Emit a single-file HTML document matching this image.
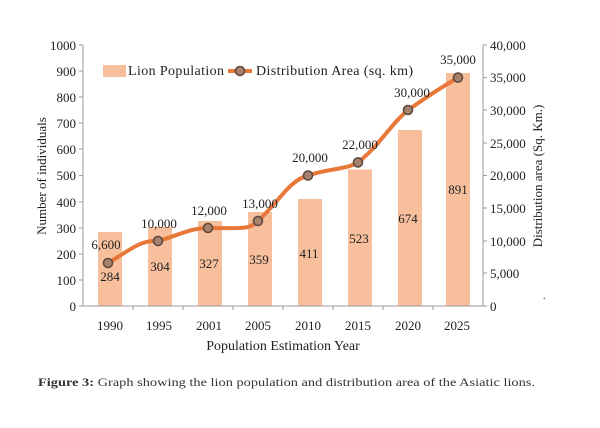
<!DOCTYPE html><html><head><style>body{margin:0;background:#fff}svg{font-family:"Liberation Serif",serif}</style></head><body>
<svg width="600" height="423" xmlns="http://www.w3.org/2000/svg">
<g fill="#f7bf9c">
<rect x="98" y="232" width="24" height="74"/><rect x="148" y="227" width="24" height="79"/><rect x="198" y="221" width="24" height="85"/><rect x="248" y="212" width="24" height="94"/><rect x="298" y="199" width="24" height="107"/><rect x="348" y="169.5" width="24" height="136.5"/><rect x="398" y="130" width="24" height="176"/><rect x="446" y="73" width="24" height="233"/>
</g>
<g stroke="#999" stroke-width="1" fill="none">
<path d="M83 45V306H483V45"/>
<path d="M79 45H83M79 71H83M79 97H83M79 123H83M79 149H83M79 175.5H83M79 202H83M79 228H83M79 254H83M79 280H83M79 306H83"/>
<path d="M483 45H487M483 77.6H487M483 110H487M483 143H487M483 175.5H487M483 208H487M483 241H487M483 273H487M483 306H487"/>
<path d="M133 306V310M183 306V310M233 306V310M283 306V310M333 306V310M383 306V310M433 306V310"/>
</g>
<path d="M108 263C130 250 140 240 158 241C180 235 190 228 208 228C240 228 250 230 258 221C280 200 290 180 308 175.5C330 168 345 170 358 162.4C380 145 390 125 408 110C430 95 440 88 458 77.6" stroke="#e8773a" stroke-width="4" fill="none"/>
<g fill="#a8826c" stroke="#5e4a40" stroke-width="1.6">
<circle cx="108" cy="263" r="4.5"/><circle cx="158" cy="241" r="4.5"/><circle cx="208" cy="228" r="4.5"/><circle cx="258" cy="221" r="4.5"/><circle cx="308" cy="175.5" r="4.5"/><circle cx="358" cy="162.4" r="4.5"/><circle cx="408" cy="110" r="4.5"/><circle cx="458" cy="77.6" r="4.5"/>
</g>
<g font-size="13" fill="#222" text-anchor="end">
<text x="76" y="50">1000</text><text x="76" y="76">900</text><text x="76" y="102">800</text><text x="76" y="128">700</text><text x="76" y="154">600</text><text x="76" y="180">500</text><text x="76" y="207">400</text><text x="76" y="233">300</text><text x="76" y="259">200</text><text x="76" y="285">100</text><text x="76" y="311">0</text>
</g>
<g font-size="13" fill="#222">
<text x="490" y="50">40,000</text><text x="490" y="82">35,000</text><text x="490" y="115">30,000</text><text x="490" y="148">25,000</text><text x="490" y="180">20,000</text><text x="490" y="213">15,000</text><text x="490" y="246">10,000</text><text x="490" y="278">5,000</text><text x="490" y="311">0</text>
</g>
<g font-size="13" fill="#222" text-anchor="middle">
<text x="110" y="330">1990</text><text x="159" y="330">1995</text><text x="209" y="330">2001</text><text x="258" y="330">2005</text><text x="308" y="330">2010</text><text x="358" y="330">2015</text><text x="408" y="330">2020</text><text x="457" y="330">2025</text>
<text x="110" y="281">284</text><text x="160" y="271">304</text><text x="209" y="268">327</text><text x="259" y="264">359</text><text x="309" y="258">411</text><text x="359" y="243">523</text><text x="408" y="223">674</text><text x="458" y="194">891</text>
<text x="106" y="249">6,600</text><text x="159" y="228">10,000</text><text x="209" y="215">12,000</text><text x="260" y="208">13,000</text><text x="310" y="162">20,000</text><text x="360" y="149">22,000</text><text x="412" y="97">30,000</text><text x="458" y="64">35,000</text>
<text x="283" y="350" font-size="14">Population Estimation Year</text>
<text transform="translate(46,176) rotate(-90)">Number of individuals</text>
<text transform="translate(542,176) rotate(-90)">Distribution area (Sq. Km.)</text>
</g>
<rect x="103" y="65" width="23" height="12" fill="#f7bf9c"/>
<text x="128" y="75" font-size="14" fill="#222" textLength="96">Lion Population</text>
<path d="M228 71H252" stroke="#e8773a" stroke-width="4"/>
<circle cx="240" cy="71" r="4.5" fill="#a8826c" stroke="#5e4a40" stroke-width="1.6"/>
<text x="256" y="75" font-size="14" fill="#222" textLength="157">Distribution Area (sq. km)</text>
<text x="543" y="299" font-size="10" fill="#222">.</text>
<text x="38" y="386" font-size="12" fill="#333" textLength="497" lengthAdjust="spacingAndGlyphs"><tspan font-weight="bold">Figure 3:</tspan> Graph showing the lion population and distribution area of the Asiatic lions.</text>
</svg>
</body></html>
